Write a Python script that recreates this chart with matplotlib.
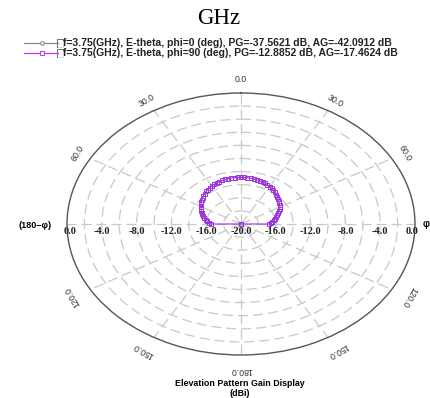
import numpy as np
import matplotlib
matplotlib.use('Agg')
import matplotlib.pyplot as plt
from matplotlib.lines import Line2D
from matplotlib.patches import Rectangle
from matplotlib.transforms import offset_copy

# elevation cut, phi = 90 deg (dB), theta every 3 deg
theta_deg = np.arange(-180, 181, 3)
gain_phi90 = [
    -38.0, -37.2, -36.1, -35.0, -34.2, -33.5, -32.6, -31.8, -31.0, -30.3,
    -29.6, -28.9, -28.2, -27.6, -27.0, -26.4, -25.8, -25.3, -24.8, -24.3,
    -23.8, -23.4, -23.0, -22.6, -22.2, -21.8, -21.4, -21.0, -20.6, -20.2,
    -16.5, -16.3, -16.1, -15.9, -15.7, -15.5, -15.3, -15.15, -15.0, -14.85,
    -14.7, -14.5, -14.35, -14.2, -14.05, -13.9, -13.75, -13.6, -13.5, -13.4,
    -13.3, -13.2, -13.1, -13.05, -13.0, -12.95, -12.92, -12.9, -12.89, -12.885,
    -12.89,
    -12.89, -12.9, -12.92, -12.95, -13.0, -13.05, -13.1, -13.2, -13.3, -13.4,
    -13.5, -13.65, -13.8, -13.95, -14.1, -14.25, -14.4, -14.55, -14.7, -14.85,
    -15.0, -15.2, -15.4, -15.6, -15.8, -16.0, -16.2, -16.4, -16.6, -16.8,
    -20.3, -20.7, -21.1, -21.5, -21.9, -22.3, -22.7, -23.1, -23.5, -24.0,
    -24.5, -25.0, -25.5, -26.1, -26.7, -27.3, -27.9, -28.6, -29.3, -30.0,
    -30.8, -31.6, -32.4, -33.3, -34.1, -35.0, -35.9, -36.8, -37.5, -38.0,
]

# elevation cut, phi = 0 deg (dB), every 15 deg -- all below the -20 dB floor
theta0_deg = np.arange(-180, 181, 15)
gain_phi0 = [
    -60.0, -55.2, -50.4, -47.1, -44.6, -42.5, -40.9, -39.6, -38.7, -38.1,
    -37.7, -37.6, -37.56, -37.6, -37.8, -38.2, -38.9, -39.8, -41.1, -42.8,
    -44.9, -47.5, -50.8, -55.4, -60.0,
]

legend_labels = [
    'f=3.75(GHz), E-theta, phi=0 (deg), PG=-37.5621 dB, AG=-42.0912 dB',
    'f=3.75(GHz), E-theta, phi=90 (deg), PG=-12.8852 dB, AG=-17.4624 dB',
]
angle_ticks = [0, 30, 60, 120, 150, 180, -150, -120, -60, -30]
radial_ticks = [0, -4, -8, -12, -16]

r_min, r_max = -20, 0
purple = '#9c34e0'
grey_line = '#8c8c8c'
grid_col = '#c8c8c8'

W, H = 430, 398
fig = plt.figure(figsize=(W / 100, H / 100), dpi=100)


def fx(px):
    return px / W


def fy(py):
    return 1 - py / H


# polar area stretched into an ellipse (cx=241, cy=224, rx=174, ry=131 px)
ax = fig.add_axes([fx(67), fy(355), 348 / W, 262 / H], projection='polar')
ax.set_aspect('auto')
ax.set_theta_zero_location('N')
ax.set_theta_direction(-1)
ax.set_rlim(r_min, r_max)
ax.set_rticks(np.arange(-18, 0, 2))
ax.set_yticklabels([])
ax.set_thetagrids(np.arange(0, 360, 30), labels=[''] * 12)
ax.grid(True, color=grid_col, lw=0.9, ls=(0, (8, 4)))
ax.spines['polar'].set_color('#555555')
ax.spines['polar'].set_linewidth(1.0)

ax.plot(np.radians(theta0_deg), np.clip(gain_phi0, r_min, None), color=grey_line,
        lw=0.8, marker='o', ms=2.6, mfc='white', mec=grey_line, mew=0.7)
ax.plot(np.radians(theta_deg), np.clip(gain_phi90, r_min, None), color=purple,
        lw=0.8, marker='s', ms=2.6, mfc='none', mec=purple, mew=0.7)

# angle labels, written along the rim
for a in angle_ticks:
    r_lab = 1.7 if abs(a) < 90 else 2.3
    if a == 0:
        r_lab = 2.1
    ax.text(np.radians(a), r_lab, '%.1f' % abs(a), rotation=-a,
            rotation_mode='anchor', ha='center', va='center', fontsize=6.3,
            family='Liberation Sans', color='#333333', clip_on=False)


def db_label(theta, v, dx=0):
    tr = offset_copy(ax.transData, fig=fig, x=dx, y=-8, units='dots')
    ax.text(theta, v, '%.1f' % v, transform=tr, ha='center', va='center',
            fontsize=7.5, family='Liberation Serif', fontweight='bold',
            color='#222222', clip_on=False)


# dB labels along the horizontal diameter
for v in radial_ticks:
    for side in (-90, 90):
        dx = 0
        if v == 0:
            dx = 3 if side < 0 else -3
        db_label(np.radians(side), v, dx)
db_label(0, r_min)

fig.text(fx(35), fy(226), '(180\u2212\u03c6)', ha='center', va='center',
         fontsize=6.5, family='Liberation Sans', fontweight='bold')
fig.text(fx(426), fy(224), '\u03c6', ha='center', va='center',
         fontsize=7, family='Liberation Sans', fontweight='bold')

# title and axis caption
fig.text(fx(219), fy(18), 'GHz', ha='center', va='center', fontsize=16.5,
         family='Liberation Serif')
fig.text(fx(240), fy(383), 'Elevation Pattern Gain Display', ha='center',
         va='center', fontsize=6.4, family='Liberation Sans', fontweight='bold')
fig.text(fx(240), fy(394), '(dBi)', ha='center', va='center', fontsize=6.4,
         family='Liberation Sans', fontweight='bold')

# legend rows: line + marker, check box, text
rows = [(43, grey_line, 'o'), (53, '#c43cf0', 's')]
for (yy, col, mk), lab in zip(rows, legend_labels):
    fig.add_artist(Line2D([fx(24), fx(58)], [fy(yy), fy(yy)], color=col, lw=0.9,
                          transform=fig.transFigure))
    fig.add_artist(Line2D([fx(42)], [fy(yy)], color=col, marker=mk, ms=2.6,
                          mfc='white', mec=col, mew=0.8, transform=fig.transFigure))
    fig.add_artist(Rectangle((fx(57), fy(yy + 4)), 6 / W, 8 / H, fill=True,
                             fc='white', ec='#d8d8d8', lw=0.6,
                             transform=fig.transFigure))
    fig.add_artist(Line2D([fx(57), fx(57), fx(63)], [fy(yy + 4), fy(yy - 4), fy(yy - 4)],
                          color='#707070', lw=0.7, transform=fig.transFigure))
    fig.text(fx(63), fy(yy), lab, ha='left', va='center', fontsize=7.5,
             family='Liberation Sans', fontweight='bold', color='#222222')

fig.savefig('out.png', dpi=100)
